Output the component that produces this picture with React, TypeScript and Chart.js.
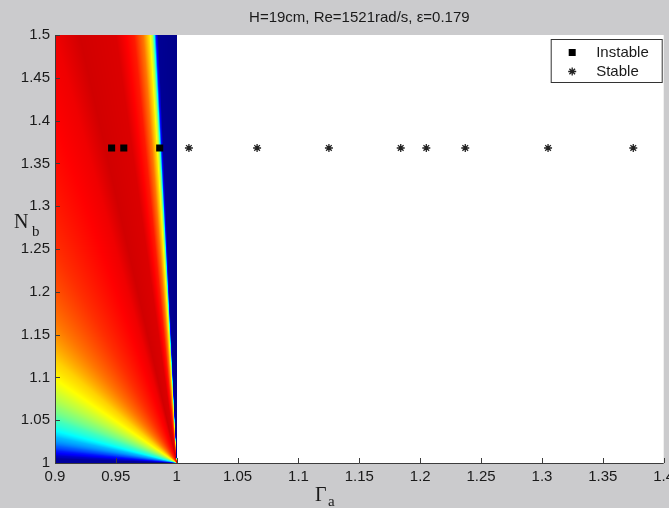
import React, { useEffect, useRef } from 'react';
import { Chart, registerables } from 'chart.js';

Chart.register(...registerables);

const TITLE = 'H=19cm, Re=1521rad/s, \u03b5=0.179';

const xTickValues = [0.9, 0.95, 1, 1.05, 1.1, 1.15, 1.2, 1.25, 1.3, 1.35, 1.4];
const xTickLabels = ['0.9', '0.95', '1', '1.05', '1.1', '1.15', '1.2', '1.25', '1.3', '1.35', '1.4'];
const yTickValues = [1, 1.05, 1.1, 1.15, 1.2, 1.25, 1.3, 1.35, 1.4, 1.45, 1.5];
const yTickLabels = ['1', '1.05', '1.1', '1.15', '1.2', '1.25', '1.3', '1.35', '1.4', '1.45', '1.5'];

const instableGamma = [0.9465, 0.9565, 0.986];
const instableN = [1.368, 1.368, 1.368];
const stableGamma = [1.01, 1.066, 1.125, 1.184, 1.205, 1.237, 1.305, 1.375];
const stableN = [1.368, 1.368, 1.368, 1.368, 1.368, 1.368, 1.368, 1.368];

// colour field: Γa 0.9..1, Nb 1..1.5, level (0..1 of jet colormap) along rays from (1,1)
const fieldGammaRange = [0.9, 1.0];
const fieldNRange = [1.0, 1.5];
// ratio (1-Γa)/(Nb-1) and the colormap level read along it
const fieldRatio = [0, 0.03, 0.034, 0.037, 0.04, 0.045, 0.055, 0.07, 0.1, 0.16, 0.2, 0.4, 0.6, 0.83, 1.0, 1.2, 1.5, 2.0, 2.6, 3.3, 5, 7, 12, 20];
const fieldLevel = [0.01, 0.02, 0.15, 0.4, 0.55, 0.65, 0.76, 0.85, 0.91, 0.92, 0.89, 0.83, 0.76, 0.67, 0.63, 0.58, 0.52, 0.44, 0.38, 0.31, 0.22, 0.15, 0.07, 0.03];

const FIG_BG = '#cbcbcd';
const TEXT = '#1a1a1a';
const SANS = '"Liberation Sans", Arial, sans-serif';
const SERIF = '"Liberation Serif", "Times New Roman", serif';

function jet(v: number): [number, number, number] {
  const c = (t: number) => Math.max(0, Math.min(1, t));
  return [
    c(Math.min(4 * v - 1.5, -4 * v + 4.5)),
    c(Math.min(4 * v - 0.5, -4 * v + 3.5)),
    c(Math.min(4 * v + 0.5, -4 * v + 2.5)),
  ];
}

function levelAt(r: number): number {
  if (!(r > fieldRatio[0])) return fieldLevel[0];
  for (let i = 1; i < fieldRatio.length; i++) {
    if (r <= fieldRatio[i]) {
      const t = (r - fieldRatio[i - 1]) / (fieldRatio[i] - fieldRatio[i - 1]);
      return fieldLevel[i - 1] + t * (fieldLevel[i] - fieldLevel[i - 1]);
    }
  }
  return fieldLevel[fieldLevel.length - 1];
}

const figurePlugin = {
  id: 'figurePlugin',
  beforeDraw(chart: any) {
    const { ctx, chartArea: a } = chart;
    ctx.save();
    ctx.fillStyle = FIG_BG;
    ctx.fillRect(0, 0, chart.width, chart.height);
    ctx.fillStyle = '#ffffff';
    ctx.fillRect(a.left, a.top, a.right - a.left, a.bottom - a.top);
    ctx.restore();
  },
  beforeDatasetsDraw(chart: any) {
    const { ctx, chartArea: a } = chart;
    const xs = chart.scales.x;
    const ys = chart.scales.y;
    // colour field
    const px0 = Math.round(xs.getPixelForValue(fieldGammaRange[0]));
    const px1 = Math.round(xs.getPixelForValue(fieldGammaRange[1]));
    const py0 = Math.round(ys.getPixelForValue(fieldNRange[1]));
    const py1 = Math.round(ys.getPixelForValue(fieldNRange[0]));
    const w = px1 - px0;
    const h = py1 - py0;
    if (w > 0 && h > 0) {
      const off = document.createElement('canvas');
      off.width = w;
      off.height = h;
      const octx = off.getContext('2d')!;
      const img = octx.createImageData(w, h);
      const apexX = fieldGammaRange[1];
      const apexY = fieldNRange[0];
      for (let j = 0; j < h; j++) {
        const y = ys.getValueForPixel(py0 + j + 0.5);
        for (let i = 0; i < w; i++) {
          const x = xs.getValueForPixel(px0 + i + 0.5);
          const dy = y - apexY;
          const r = dy > 0 ? (apexX - x) / dy : Infinity;
          const [cr, cg, cb] = jet(levelAt(r));
          const k = (j * w + i) * 4;
          img.data[k] = Math.round(cr * 255);
          img.data[k + 1] = Math.round(cg * 255);
          img.data[k + 2] = Math.round(cb * 255);
          img.data[k + 3] = 255;
        }
      }
      octx.putImageData(img, 0, 0);
      ctx.drawImage(off, px0, py0);
    }

    ctx.save();
    // axes lines
    ctx.strokeStyle = '#3c3c3c';
    ctx.lineWidth = 1;
    ctx.beginPath();
    ctx.moveTo(a.left + 0.5, a.top);
    ctx.lineTo(a.left + 0.5, a.bottom + 0.5);
    ctx.lineTo(a.right, a.bottom + 0.5);
    ctx.stroke();
    // ticks (inward)
    ctx.beginPath();
    xTickValues.forEach((v) => {
      const p = Math.round(xs.getPixelForValue(v)) + 0.5;
      ctx.moveTo(p, a.bottom);
      ctx.lineTo(p, a.bottom - 5);
    });
    yTickValues.forEach((v) => {
      const p = Math.round(ys.getPixelForValue(v)) + 0.5;
      ctx.moveTo(a.left, p);
      ctx.lineTo(a.left + 5, p);
    });
    ctx.stroke();

    // tick labels
    ctx.fillStyle = TEXT;
    ctx.font = `15px ${SANS}`;
    ctx.textBaseline = 'middle';
    ctx.textAlign = 'center';
    xTickValues.forEach((v, i) => {
      ctx.fillText(xTickLabels[i], xs.getPixelForValue(v), a.bottom + 14);
    });
    ctx.textAlign = 'right';
    yTickValues.forEach((v, i) => {
      ctx.fillText(yTickLabels[i], a.left - 5, ys.getPixelForValue(v));
    });

    // title
    ctx.textAlign = 'center';
    ctx.font = `15px ${SANS}`;
    ctx.fillText(TITLE, (a.left + a.right) / 2, a.top - 17);

    // axis titles
    ctx.textAlign = 'left';
    ctx.textBaseline = 'alphabetic';
    ctx.font = `20px ${SERIF}`;
    ctx.fillText('N', a.left - 41, 228);
    ctx.font = `15px ${SERIF}`;
    ctx.fillText('b', a.left - 23, 236);
    ctx.font = `20px ${SERIF}`;
    ctx.fillText('\u0393', 315, a.bottom + 38);
    ctx.font = `15px ${SERIF}`;
    ctx.fillText('a', 328, a.bottom + 43);
    ctx.restore();
  },
  afterDatasetsDraw(chart: any) {
    const { ctx, chartArea: a } = chart;
    const ds = chart.data.datasets;
    ctx.save();
    const bx = a.right - 112.5;
    const by = a.top + 4.5;
    const bw = 111;
    const bh = 43;
    ctx.fillStyle = '#ffffff';
    ctx.fillRect(bx, by, bw, bh);
    ctx.strokeStyle = '#333333';
    ctx.lineWidth = 1;
    ctx.strokeRect(bx, by, bw, bh);
    const mx = bx + 21;
    const y1 = by + 13;
    const y2 = by + 32;
    // square marker
    ctx.fillStyle = '#000000';
    ctx.fillRect(mx - 3.5, y1 - 3.5, 7, 7);
    // star marker
    ctx.strokeStyle = '#222222';
    ctx.lineWidth = 1.3;
    ctx.beginPath();
    const s = 4;
    ctx.moveTo(mx - s, y2); ctx.lineTo(mx + s, y2);
    ctx.moveTo(mx, y2 - s); ctx.lineTo(mx, y2 + s);
    const d = s * Math.SQRT1_2;
    ctx.moveTo(mx - d, y2 - d); ctx.lineTo(mx + d, y2 + d);
    ctx.moveTo(mx - d, y2 + d); ctx.lineTo(mx + d, y2 - d);
    ctx.stroke();
    ctx.fillStyle = TEXT;
    ctx.font = `15px ${SANS}`;
    ctx.textAlign = 'left';
    ctx.textBaseline = 'middle';
    ctx.fillText(ds[0].label, bx + 45, y1);
    ctx.fillText(ds[1].label, bx + 45, y2);
    ctx.restore();
  },
};

export default function App() {
  const ref = useRef<HTMLCanvasElement | null>(null);
  useEffect(() => {
    if (!ref.current) return;
    const chart = new Chart(ref.current, {
      type: 'scatter',
      data: {
        datasets: [
          {
            label: 'Instable',
            data: instableGamma.map((x, i) => ({ x, y: instableN[i] })),
            pointStyle: 'rect',
            pointRadius: 5,
            backgroundColor: '#000000',
            borderColor: '#000000',
            borderWidth: 0,
          },
          {
            label: 'Stable',
            data: stableGamma.map((x, i) => ({ x, y: stableN[i] })),
            pointStyle: 'star',
            pointRadius: 4,
            backgroundColor: '#222222',
            borderColor: '#222222',
            borderWidth: 1.3,
          },
        ],
      },
      options: {
        animation: false,
        responsive: false,
        events: [],
        layout: { padding: { left: 55, right: 4, top: 35, bottom: 45 } },
        plugins: { legend: { display: false }, tooltip: { enabled: false }, title: { display: false } },
        scales: {
          x: {
            type: 'linear',
            display: false,
            min: xTickValues[0],
            max: xTickValues[xTickValues.length - 1],
          },
          y: {
            type: 'linear',
            display: false,
            min: yTickValues[0],
            max: yTickValues[yTickValues.length - 1],
          },
        },
      },
      plugins: [figurePlugin],
    });
    return () => chart.destroy();
  }, []);
  return (
    <div style={{ position: 'fixed', left: 0, top: 0, width: 669, height: 508, overflow: 'hidden', background: FIG_BG }}>
      <canvas ref={ref} width={669} height={508} style={{ display: 'block', width: 669, height: 508 }} />
    </div>
  );
}
